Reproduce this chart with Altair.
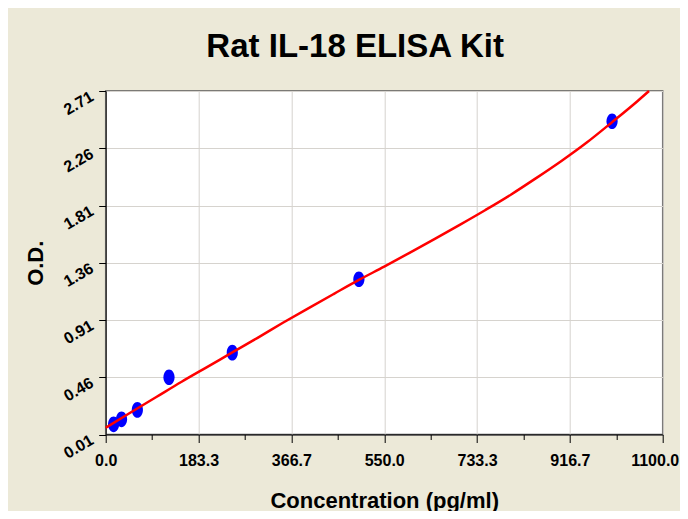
import altair as alt
import pandas as pd

# ---- data ----
conc = [15.6, 31.25, 62.5, 125, 250, 500, 1000]
od = [0.090, 0.129, 0.203, 0.460, 0.653, 1.230, 2.472]

curve_x = [0, 50, 100, 150, 200, 250, 300, 350, 400, 450, 500, 550, 600,
           650, 700, 750, 800, 850, 900, 950, 1000, 1050, 1073]
curve_y = [0.063, 0.185, 0.305, 0.425, 0.54, 0.655, 0.77, 0.888, 1.002, 1.114,
           1.225, 1.33, 1.438, 1.548, 1.66, 1.775, 1.895, 2.025, 2.16, 2.305,
           2.465, 2.63, 2.71]

x_major = [0, 1100 / 6, 2200 / 6, 550, 4400 / 6, 5500 / 6, 1100]
y_major = [0.01, 0.46, 0.91, 1.36, 1.81, 2.26, 2.71]

# minor ticks: 3 between each pair of major ticks
x_ticks = [x_major[i] + (x_major[i + 1] - x_major[i]) * k / 4
           for i in range(len(x_major) - 1) for k in range(4)] + [x_major[-1]]
y_ticks = [y_major[i] + (y_major[i + 1] - y_major[i]) * k / 4
           for i in range(len(y_major) - 1) for k in range(4)] + [y_major[-1]]

pts = pd.DataFrame({"conc": conc, "od": od})
curve = pd.DataFrame({"conc": curve_x, "od": curve_y})

FONT = "Liberation Sans"
W, H = 557, 343.5
PAD_L, PAD_T = 97.7, 83
TOTAL_W, TOTAL_H = 672, 503

x_major_test = "abs(datum.value / (1100/6) - round(datum.value / (1100/6))) < 0.01"
y_major_test = "abs((datum.value - 0.01) / 0.45 - round((datum.value - 0.01) / 0.45)) < 0.01"

x_scale = alt.Scale(domain=[0, 1100], nice=False, zero=False)
y_scale = alt.Scale(domain=[0.01, 2.71], nice=False, zero=False)

x_axis = alt.Axis(
    values=x_ticks, format=".1f",
    labelExpr=f"({x_major_test}) ? format(datum.value, '.1f') : ''",
    labelFont=FONT, labelFontSize=16, labelFontWeight="bold", labelColor="black",
    labelAngle=0, labelAlign="center", labelBaseline="top", labelPadding=10,
    labelOffset={"condition": {"test": "datum.value > 1099", "value": -8}, "value": 0},
    labelOverlap=False, labelFlush=False,
    tickColor="black", tickWidth=1,
    tickSize={"condition": {"test": x_major_test, "value": 8}, "value": 5},
    domainColor="black", domainWidth=1,
    grid=True, gridColor="#d6d3ce", gridWidth=1,
    gridOpacity={"condition": {"test": x_major_test, "value": 1}, "value": 0},
    title="Concentration (pg/ml)", titleFont=FONT, titleFontSize=22,
    titleFontWeight="bold", titleColor="black",
    titleX=W / 2, titleY=72.5, titleAlign="center", titleBaseline="alphabetic",
)

y_axis = alt.Axis(
    values=y_ticks, format=".2f",
    labelExpr=f"({y_major_test}) ? format(datum.value, '.2f') : ''",
    labelFont=FONT, labelFontSize=16, labelFontWeight="bold", labelColor="black",
    labelAngle=330, labelAlign="right", labelBaseline="middle", labelPadding=7,
    labelOffset=4, labelOverlap=False, labelFlush=False,
    tickColor="black", tickWidth=1,
    tickSize={"condition": {"test": y_major_test, "value": 7}, "value": 5},
    domainColor="black", domainWidth=1,
    grid=True, gridColor="#d6d3ce", gridWidth=1,
    gridOpacity={"condition": {"test": y_major_test, "value": 1}, "value": 0},
    title="O.D.", titleFont=FONT, titleFontSize=22, titleFontWeight="bold",
    titleColor="black", titleAngle=270, titleX=-62.7, titleY=H / 2,
    titleAlign="center", titleBaseline="alphabetic",
)

ellipse = "M -0.714 0 A 0.714 1 0 1 0 0.714 0 A 0.714 1 0 1 0 -0.714 0 Z"

points = alt.Chart(pts).mark_point(
    shape=ellipse, filled=True, color="#0000ff", opacity=1, size=245
).encode(
    x=alt.X("conc:Q", scale=x_scale, axis=x_axis),
    y=alt.Y("od:Q", scale=y_scale, axis=y_axis),
)

line = alt.Chart(curve).mark_line(
    color="#ff0000", strokeWidth=2.5, interpolate="monotone"
).encode(
    x=alt.X("conc:Q", scale=x_scale),
    y=alt.Y("od:Q", scale=y_scale),
)

chart = alt.layer(points, line).properties(
    width=W, height=H,
    autosize="none",
    padding={"left": PAD_L, "top": PAD_T,
             "right": TOTAL_W - PAD_L - W, "bottom": TOTAL_H - PAD_T - H},
    background="#ece9d8",
    title=alt.TitleParams(
        text="Rat IL-18 ELISA Kit", font=FONT, fontSize=33, fontWeight="bold",
        color="black", anchor="middle", dx=-29, offset=32, dy=36,
        baseline="alphabetic",
    ),
).configure_view(
    fill="white", stroke="#555555", strokeWidth=1.5
)

chart.save("out.html", embed_options={"renderer": "svg", "actions": False})
